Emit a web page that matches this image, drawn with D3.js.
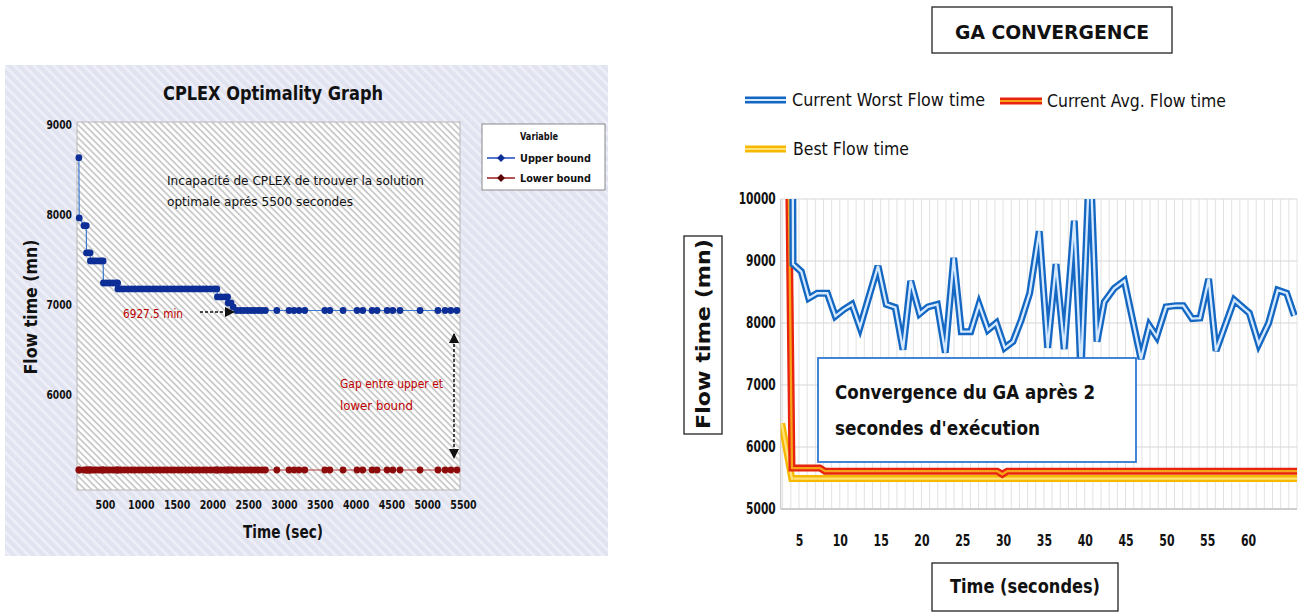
<!DOCTYPE html>
<html><head><meta charset="utf-8">
<script src="https://cdn.jsdelivr.net/npm/d3@7"></script>
<style>
body{margin:0;background:#fff}
svg{display:block}
text{font-family:"Liberation Sans Narrow","DejaVu Sans Condensed","Liberation Sans",sans-serif}
</style>
</head><body>
<svg id="c" width="1302" height="613"></svg>
<script>
// ---------------- DATA ----------------
// CPLEX (left)
const cplexTime = [135,140,207,238,242,270,292,296,330,370,410,450,474,478,520,565,610,655,676,680,720,770,820,870,920,970,1020,1070,1120,1170,1220,1270,1320,1370,1420,1470,1520,1570,1620,1670,1720,1770,1820,1870,1920,1970,2030,2062,2070,2120,2170,2212,2220,2260,2290,2340,2390,2440,2490,2540,2590,2640,2690,2740,2900,3070,3140,3210,3290,3570,3640,3825,4020,4100,4230,4300,4440,4520,4620,4900,5150,5250,5330,5415];
const upperBound = [8626,7956,7870,7870,7567,7567,7567,7478,7478,7478,7478,7478,7478,7233,7233,7233,7233,7233,7233,
  7167,7167,7167,7167,7167,7167,7167,7167,7167,7167,7167,7167,7167,7167,7167,7167,7167,7167,7167,7167,7167,7167,7167,7167,7167,7167,7167,7167,7167,
  7078,7078,7078,7078,7011,7011,6967,
  6927.5,6927.5,6927.5,6927.5,6927.5,6927.5,6927.5,6927.5,6927.5,6927.5,6927.5,6927.5,6927.5,6927.5,6927.5,6927.5,6927.5,6927.5,6927.5,6927.5,6927.5,6927.5,6927.5,6927.5,6927.5,6927.5,6927.5,6927.5,6927.5];
const lowerBound = [5155,5155,5155,5155,5155,5155,5155,5155,5155,5155,5155,5155,5155,5155,5155,5155,5155,5155,5155,5155,
  5155,5155,5155,5155,5155,5155,5155,5155,5155,5155,5155,5155,5155,5155,5155,5155,5155,5155,5155,5155,
  5155,5155,5155,5155,5155,5155,5155,5155,5155,5155,5155,5155,5155,5155,5155,5155,5155,5155,5155,5155,
  5155,5155,5155,5155,5155,5155,5155,5155,5155,5155,5155,5155,5155,5155,5155,5155,5155,5155,5155,5155,
  5155,5155,5155,5155];
const cplexTicksX = [500,1000,1500,2000,2500,3000,3500,4000,4500,5000,5500];
const cplexTicksY = [6000,7000,8000,9000];

// GA (right)
const gaWorstTime = [4.1,4.27,5.28,6.19,7.24,8.47,9.45,10.51,11.49,12.47,14.68,15.69,16.80,17.74,18.68,19.78,20.80,21.94,22.92,23.95,24.88,26.03,27.05,28.15,29.17,30.20,31.21,32.23,33.26,34.43,35.46,36.48,37.49,38.72,39.54,40.64,41.50,42.40,43.62,44.85,46.89,47.91,48.81,49.96,51.18,52.07,53.14,54.12,55.18,56.08,58.32,60.16,61.31,62.53,63.64,64.74,65.67];
const gaWorst = [16000,8950,8830,8400,8480,8480,8110,8220,8300,7930,8920,8300,8250,7570,8680,8150,8260,8300,7520,9050,7860,7860,8300,7890,8000,7600,7700,8050,8480,9480,7600,8950,7580,9650,7200,10800,7700,8340,8560,8680,7420,7960,7780,8260,8280,8280,8070,8080,8710,7550,8370,8160,7660,8000,8530,8480,8120];
const gaAvgTime = [3.0,4.14,7.57,8.18,29.3,29.9,30.5,66.0];
const gaAvg = [19000,5660,5660,5610,5610,5560,5610,5610];
const gaBestTime = [2.88,4.12,66.0];
const gaBest = [6380,5490,5490];
const gaTicksX = [5,10,15,20,25,30,35,40,45,50,55,60];
const gaTicksY = [5000,6000,7000,8000,9000,10000];

// ---------------- DRAW ----------------
const svg = d3.select("#c");
const defs = svg.append("defs");
const fmt = d3.format("d");

function fitText(sel, len){ sel.attr("textLength", len).attr("lengthAdjust","spacingAndGlyphs"); return sel; }
function fitTicks(g, perChar){ g.selectAll(".tick text").each(function(){ const s=d3.select(this); fitText(s, s.text().length*perChar); }); }

// hatch patterns
const pb = defs.append("pattern").attr("id","bgHatch").attr("patternUnits","userSpaceOnUse")
  .attr("width",7).attr("height",7).attr("patternTransform","rotate(45)");
pb.append("rect").attr("width",7).attr("height",7).attr("fill","#e1e3f0");
pb.append("rect").attr("width",7).attr("height",2.6).attr("fill","#eeeff8");
const pp = defs.append("pattern").attr("id","plotHatch").attr("patternUnits","userSpaceOnUse")
  .attr("width",4.6).attr("height",4.6).attr("patternTransform","rotate(45)");
pp.append("rect").attr("width",4.6).attr("height",4.6).attr("fill","#ffffff");
pp.append("rect").attr("width",4.6).attr("height",1.6).attr("fill","#c4c4c4");

// arrow markers
defs.append("marker").attr("id","arrowEnd").attr("viewBox","0 0 10 10").attr("refX",9).attr("refY",5)
  .attr("markerWidth",7).attr("markerHeight",7).attr("orient","auto-start-reverse")
  .append("path").attr("d","M0,0 L10,5 L0,10 z").attr("fill","#111");

// ===== LEFT PANEL =====
const L = {x0:77, x1:460, y0:122, y1:490};
svg.append("rect").attr("x",5).attr("y",65).attr("width",603).attr("height",491).attr("fill","url(#bgHatch)");
svg.append("rect").attr("x",L.x0).attr("y",L.y0).attr("width",L.x1-L.x0).attr("height",L.y1-L.y0)
  .attr("fill","url(#plotHatch)").attr("stroke","#b8b8b8").attr("stroke-width",1);

const xL = d3.scaleLinear().domain([109,5458]).range([L.x0,L.x1]);
const yL = d3.scaleLinear().domain([4933,9022]).range([L.y1,L.y0]);

const gxL = svg.append("g").attr("transform",`translate(0,${L.y1})`)
  .call(d3.axisBottom(xL).tickValues(cplexTicksX).tickFormat(fmt).tickSize(0).tickPadding(10));
gxL.select(".domain").remove();
gxL.selectAll("text").attr("font-size",13).attr("font-weight","bold").attr("fill","#111").attr("font-family",null);
fitTicks(gxL, 6.6);

const gyL = svg.append("g").attr("transform",`translate(${L.x0},0)`)
  .call(d3.axisLeft(yL).tickValues(cplexTicksY).tickFormat(fmt).tickSize(0).tickPadding(5));
gyL.select(".domain").remove();
gyL.selectAll("text").attr("font-size",13).attr("font-weight","bold").attr("fill","#111").attr("font-family",null);
fitTicks(gyL, 6.4);

fitText(svg.append("text").attr("x",273).attr("y",100).attr("text-anchor","middle")
  .attr("font-size",19).attr("font-weight","bold").attr("fill","#111").text("CPLEX Optimality Graph"),220);
fitText(svg.append("text").attr("transform","translate(37,307) rotate(-90)").attr("text-anchor","middle")
  .attr("font-size",17).attr("font-weight","bold").attr("fill","#111").text("Flow time (mn)"),135);
fitText(svg.append("text").attr("x",283).attr("y",538).attr("text-anchor","middle")
  .attr("font-size",17).attr("font-weight","bold").attr("fill","#111").text("Time (sec)"),80);

const ubData = cplexTime.map((t,i)=>[t,upperBound[i]]);
const lbData = cplexTime.map((t,i)=>[t,lowerBound[i]]);
const lineL = d3.line().x(d=>xL(d[0])).y(d=>yL(d[1]));

svg.append("path").datum(lbData).attr("d",lineL).attr("fill","none").attr("stroke","#b23a3a").attr("stroke-width",1.2);
svg.append("g").selectAll("circle").data(lbData).join("circle")
  .attr("cx",d=>xL(d[0])).attr("cy",d=>yL(d[1])).attr("r",3.4).attr("fill","#8e0b0b");
svg.append("path").datum(ubData).attr("d",lineL).attr("fill","none").attr("stroke","#3b78cf").attr("stroke-width",1.2);
svg.append("g").selectAll("circle").data(ubData).join("circle")
  .attr("cx",d=>xL(d[0])).attr("cy",d=>yL(d[1])).attr("r",3.4).attr("fill","#0c2e96");

// annotations
fitText(svg.append("text").attr("x",167).attr("y",185).attr("font-size",13).attr("fill","#111")
  .text("Incapacité de CPLEX de trouver la solution"),257);
fitText(svg.append("text").attr("x",167).attr("y",206).attr("font-size",13).attr("fill","#111")
  .text("optimale aprés 5500 secondes"),186);
fitText(svg.append("text").attr("x",123).attr("y",318).attr("font-size",13).attr("fill","#c00000")
  .text("6927.5 min"),60);
svg.append("line").attr("x1",200).attr("y1",312).attr("x2",234).attr("y2",312)
  .attr("stroke","#111").attr("stroke-width",1.5).attr("stroke-dasharray","3,2").attr("marker-end","url(#arrowEnd)");
fitText(svg.append("text").attr("x",340).attr("y",388).attr("font-size",13).attr("fill","#c00000")
  .text("Gap entre upper et"),103);
fitText(svg.append("text").attr("x",340).attr("y",410).attr("font-size",13).attr("fill","#c00000")
  .text("lower bound"),73);
svg.append("line").attr("x1",454).attr("y1",334).attr("x2",454).attr("y2",458)
  .attr("stroke","#111").attr("stroke-width",1.5).attr("stroke-dasharray","3,2")
  .attr("marker-start","url(#arrowEnd)").attr("marker-end","url(#arrowEnd)");

// legend
svg.append("rect").attr("x",482).attr("y",124).attr("width",123).attr("height",66)
  .attr("fill","#fff").attr("stroke","#8a8a8a");
fitText(svg.append("text").attr("x",539).attr("y",140).attr("text-anchor","middle").attr("font-size",11)
  .attr("font-weight","bold").attr("fill","#111").text("Variable"),38);
const legL = [{name:"Upper bound",line:"#2a55c4",mk:"#0c2e96",y:158},{name:"Lower bound",line:"#a22a2a",mk:"#5a0606",y:178}];
legL.forEach(d=>{
  svg.append("line").attr("x1",487).attr("x2",515).attr("y1",d.y).attr("y2",d.y).attr("stroke",d.line).attr("stroke-width",1.6);
  svg.append("path").attr("d",d3.symbol(d3.symbolDiamond2,40)()).attr("transform",`translate(501,${d.y})`).attr("fill",d.mk);
  fitText(svg.append("text").attr("x",520).attr("y",d.y+4).attr("font-size",11).attr("font-weight","bold")
    .attr("fill","#111").text(d.name),71);
});

// ===== RIGHT PANEL =====
const R = {x0:780.7, x1:1297, y0:199, y1:509};
const xR = d3.scaleLinear().domain([2.76,66.0]).range([R.x0,R.x1]);
const yR = d3.scaleLinear().domain([5000,10000]).range([R.y1,R.y0]);

// title box
svg.append("rect").attr("x",932).attr("y",7).attr("width",240).attr("height",46).attr("fill","#fff").attr("stroke","#333").attr("stroke-width",1.4);
fitText(svg.append("text").attr("x",1052).attr("y",39).attr("text-anchor","middle").attr("font-size",20)
  .attr("font-weight","bold").attr("fill","#111").text("GA CONVERGENCE"),194);

// legend
function doubleLine(x1,x2,y,outer,inner){
  svg.append("line").attr("x1",x1).attr("x2",x2).attr("y1",y).attr("y2",y).attr("stroke",outer).attr("stroke-width",7);
  svg.append("line").attr("x1",x1).attr("x2",x2).attr("y1",y).attr("y2",y).attr("stroke",inner).attr("stroke-width",2.2);
}
const BLUE=["#1467c2","#d6eaff"], RED=["#e8230e","#f6a31a"], YEL=["#f6b800","#ffe27a"];
doubleLine(745,786,100,BLUE[0],BLUE[1]);
fitText(svg.append("text").attr("x",792).attr("y",106).attr("font-size",17).attr("fill","#111").text("Current Worst Flow time"),193);
doubleLine(1000,1042,101,RED[0],RED[1]);
fitText(svg.append("text").attr("x",1047).attr("y",107).attr("font-size",17).attr("fill","#111").text("Current Avg. Flow time"),179);
doubleLine(745,786,149,YEL[0],YEL[1]);
fitText(svg.append("text").attr("x",793).attr("y",155).attr("font-size",17).attr("fill","#111").text("Best Flow time"),116);

// grid
const gridX = d3.range(3,67);
svg.append("g").selectAll("line").data(gridX).join("line")
  .attr("x1",d=>xR(d)).attr("x2",d=>xR(d)).attr("y1",R.y0).attr("y2",R.y1).attr("stroke","#e2e2e2").attr("stroke-width",1);
svg.append("g").selectAll("line").data(gaTicksY).join("line")
  .attr("x1",R.x0).attr("x2",R.x1).attr("y1",d=>yR(d)).attr("y2",d=>yR(d)).attr("stroke","#d8d8d8").attr("stroke-width",1.2);
svg.append("line").attr("x1",R.x0).attr("x2",R.x0).attr("y1",R.y0).attr("y2",R.y1).attr("stroke","#c8c8c8").attr("stroke-width",1.2);
svg.append("line").attr("x1",R.x0).attr("x2",R.x1).attr("y1",R.y1).attr("y2",R.y1).attr("stroke","#c4c4c4").attr("stroke-width",1.6);

// axes labels
const gxR = svg.append("g").attr("transform",`translate(0,${R.y1})`)
  .call(d3.axisBottom(xR).tickValues(gaTicksX).tickFormat(fmt).tickSize(0).tickPadding(26));
gxR.select(".domain").remove();
gxR.selectAll("text").attr("font-size",15).attr("font-weight","bold").attr("fill","#111").attr("font-family",null);
fitTicks(gxR, 7.6);
const gyR = svg.append("g").attr("transform",`translate(${R.x0},0)`)
  .call(d3.axisLeft(yR).tickValues(gaTicksY).tickFormat(fmt).tickSize(0).tickPadding(5));
gyR.select(".domain").remove();
gyR.selectAll("text").attr("font-size",15).attr("font-weight","bold").attr("fill","#111").attr("font-family",null);
fitTicks(gyR, 7.4);

// lines (clipped)
defs.append("clipPath").attr("id","clipR").append("rect").attr("x",R.x0).attr("y",R.y0).attr("width",R.x1-R.x0).attr("height",R.y1-R.y0);
const lineR = d3.line().x(d=>xR(d[0])).y(d=>yR(d[1]));
const gl = svg.append("g").attr("clip-path","url(#clipR)");
function dbl(data,col,w){
  gl.append("path").datum(data).attr("d",lineR).attr("fill","none").attr("stroke",col[0]).attr("stroke-width",w).attr("stroke-linejoin","miter");
  gl.append("path").datum(data).attr("d",lineR).attr("fill","none").attr("stroke",col[1]).attr("stroke-width",w*0.33).attr("stroke-linejoin","miter");
}
dbl(gaBestTime.map((t,i)=>[t,gaBest[i]]),YEL,7);
dbl(gaAvgTime.map((t,i)=>[t,gaAvg[i]]),RED,7);
dbl(gaWorstTime.map((t,i)=>[t,gaWorst[i]]),BLUE,7);

// annotation box
svg.append("rect").attr("x",818).attr("y",358).attr("width",318).attr("height",104).attr("fill","#fff").attr("stroke","#2f78d4").attr("stroke-width",1.8);
fitText(svg.append("text").attr("x",835).attr("y",399).attr("font-size",19).attr("font-weight","bold").attr("fill","#111")
  .text("Convergence du GA après 2"),260);
fitText(svg.append("text").attr("x",835).attr("y",435).attr("font-size",19).attr("font-weight","bold").attr("fill","#111")
  .text("secondes d'exécution"),205);

// axis title boxes
svg.append("rect").attr("x",684).attr("y",236).attr("width",38).attr("height",198).attr("fill","#fff").attr("stroke","#222").attr("stroke-width",1.3);
fitText(svg.append("text").attr("transform","translate(710,334) rotate(-90)").attr("text-anchor","middle")
  .attr("font-size",19).attr("font-weight","bold").attr("fill","#111").text("Flow time (mn)"),190);
svg.append("rect").attr("x",932).attr("y",563).attr("width",186).attr("height",48).attr("fill","#fff").attr("stroke","#222").attr("stroke-width",1.3);
fitText(svg.append("text").attr("x",1025).attr("y",593).attr("text-anchor","middle")
  .attr("font-size",19).attr("font-weight","bold").attr("fill","#111").text("Time (secondes)"),150);
</script>
</body></html>
